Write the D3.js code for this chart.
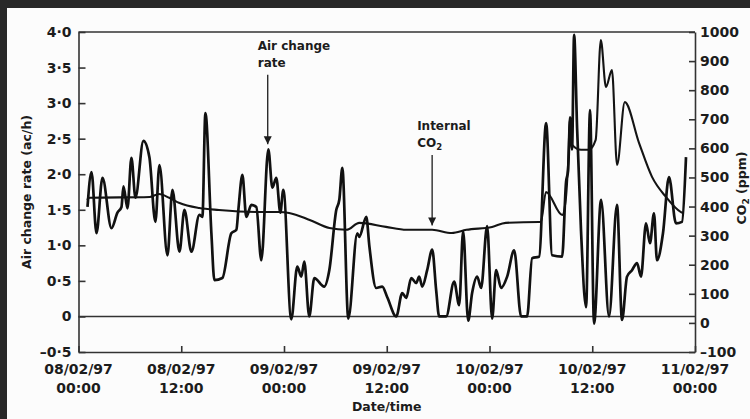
<!DOCTYPE html>
<html>
<head>
<meta charset="utf-8">
<script src="https://cdn.jsdelivr.net/npm/d3@7/dist/d3.min.js"></script>
<style>
body { margin: 0; background: #fcfcfc; }
svg { display: block; }
text { font-family: "DejaVu Sans", sans-serif; font-weight: bold; fill: #1c1c1c; }
.tick-label { font-size: 14px; }
.axis-title { font-size: 12.5px; }
.note { font-size: 12px; }
</style>
</head>
<body>
<script>
// air change rate (ac/h), hours since 08/02/97 00:00
var achHours = [1.05, 1.52, 2.10, 2.80, 3.85, 4.55, 5.02, 5.25, 5.72, 6.18, 6.65, 7.58, 8.28, 8.98, 9.45,
    10.39, 10.97, 11.79, 12.37, 13.19, 14.12, 14.47, 14.82, 15.52, 15.87, 16.80, 17.85, 18.44, 18.67, 19.14,
    19.60, 20.19, 20.77, 21.35, 22.17, 22.64, 23.10, 23.57, 23.92, 24.85, 25.55, 26.02, 26.37, 26.95, 27.54,
    28.70, 29.29, 30.11, 30.46, 30.81, 31.51, 32.56, 32.79, 33.61, 33.96, 34.77, 35.47, 36.06, 37.11, 37.81,
    38.27, 38.86, 39.44, 39.79, 40.14, 40.72, 41.31, 41.77, 42.12, 42.94, 43.87, 44.46, 44.92, 45.51, 45.97,
    46.56, 47.02, 47.72, 48.31, 48.77, 49.36, 50.06, 50.88, 51.69, 52.39, 52.98, 53.79, 54.61, 55.31, 56.48,
    56.94, 57.18, 57.41, 57.64, 57.88, 58.23, 58.69, 59.28, 59.74, 60.21, 61.03, 61.96, 62.89, 63.48, 64.06,
    64.64, 65.23, 65.69, 66.28, 66.74, 67.21, 67.56, 68.26, 68.96, 69.78, 70.48, 70.95];
var achValues = [1.54, 2.03, 1.17, 1.95, 1.24, 1.46, 1.54, 1.83, 1.52, 2.23, 1.67, 2.47, 2.24, 1.33, 2.13,
    0.86, 1.78, 0.91, 1.50, 0.91, 1.43, 1.40, 2.86, 1.17, 0.51, 0.54, 1.17, 1.22, 1.50, 1.99,
    1.40, 1.57, 1.54, 0.79, 2.35, 1.81, 1.95, 1.46, 1.78, -0.04, 0.70, 0.56, 0.77, 0.0, 0.54,
    0.42, 0.65, 1.50, 1.64, 2.09, -0.03, 1.17, 1.12, 1.40, 1.00, 0.40, 0.42, 0.27, 0.0, 0.33,
    0.26, 0.54, 0.47, 0.56, 0.42, 0.65, 0.94, 0.37, 0.0, 0.0, 0.49, 0.16, 1.20, -0.06, 0.33,
    0.56, 0.40, 1.27, -0.03, 0.65, 0.40, 0.56, 0.93, 0.0, 0.0, 0.82, 0.84, 2.72, 0.86, 0.84,
    1.89, 2.05, 2.80, 2.35, 3.96, 2.65, 1.20, 0.13, 2.90, -0.10, 1.64, 0.0, 1.57, -0.05, 0.56,
    0.65, 0.75, 0.56, 1.31, 1.03, 1.45, 0.79, 1.17, 1.96, 1.31, 1.33, 2.24];

// internal CO2 (ppm)
var co2Hours = [1.0, 1.3, 8.3, 9.4, 10.6, 11.8, 14.1, 16.4, 21.1, 23.4, 24.6, 27.0, 29.3, 31.3, 32.8,
    35.9, 38.3, 41.3, 43.6, 45.3, 48.3, 49.9, 53.8, 54.0, 54.6, 56.5, 56.9, 57.2, 57.4, 57.65,
    58.7, 59.6, 60.4, 61.0, 61.6, 62.3, 62.9, 63.8, 65.46, 66.98, 68.61, 70.36, 70.6];
var co2Values = [423, 430, 433, 443, 430, 412, 395, 388, 381, 381, 378, 354, 326, 320, 344,
    330, 320, 320, 309, 320, 330, 344, 347, 347, 450, 371, 423, 560, 704, 612,
    595, 595, 629, 972, 811, 869, 543, 759, 619, 502, 433, 381, 378];

var xTickHours = [0, 12, 24, 36, 48, 60, 72];
var xTickDates = ["08/02/97", "08/02/97", "09/02/97", "09/02/97", "10/02/97", "10/02/97", "11/02/97"];
var xTickTimes = ["00:00", "12:00", "00:00", "12:00", "00:00", "12:00", "00:00"];
var leftTicks = [-0.5, 0, 0.5, 1, 1.5, 2, 2.5, 3, 3.5, 4];
var leftTickLabels = ["\u20130\u00b75", "0", "0\u00b75", "1\u00b70", "1\u00b75", "2\u00b70", "2\u00b75", "3\u00b70", "3\u00b75", "4\u00b70"];
var rightTicks = [-100, 0, 100, 200, 300, 400, 500, 600, 700, 800, 900, 1000];
var rightTickLabels = ["\u2013100", "0", "100", "200", "300", "400", "500", "600", "700", "800", "900", "1000"];

var width = 750, height = 419;
var plot = {left: 78.5, right: 695, top: 32, bottom: 352};

var svg = d3.select("body").append("svg")
    .attr("width", width).attr("height", height);

// scanned page edge
svg.append("rect").attr("x", 0).attr("y", 0).attr("width", width).attr("height", 8).attr("fill", "#282828");
svg.append("rect").attr("x", 0).attr("y", 0).attr("width", 7).attr("height", height).attr("fill", "#282828");

var x = d3.scaleLinear().domain([0, 72]).range([plot.left, plot.right]);
var yL = d3.scaleLinear().domain([-0.5, 4]).range([plot.bottom, plot.top]);
var yR = d3.scaleLinear().domain([-100, 1000]).range([plot.bottom, plot.top]);

var axisColor = "#333";

// axes, ticks pointing inward
var gl = svg.append("g")
    .attr("transform", "translate(" + plot.left + ",0)")
    .call(d3.axisLeft(yL).tickValues(leftTicks)
        .tickFormat(function(d, i) { return leftTickLabels[i]; })
        .tickSizeInner(-7).tickSizeOuter(0).tickPadding(7));
var gr = svg.append("g")
    .attr("transform", "translate(" + plot.right + ",0)")
    .call(d3.axisRight(yR).tickValues(rightTicks)
        .tickFormat(function(d, i) { return rightTickLabels[i]; })
        .tickSizeInner(-6).tickSizeOuter(0).tickPadding(5));
var gb = svg.append("g")
    .attr("transform", "translate(0," + plot.bottom + ")")
    .call(d3.axisBottom(x).tickValues(xTickHours).tickFormat("")
        .tickSizeInner(-6).tickSizeOuter(0));

[gl, gr, gb].forEach(function(g) {
    g.attr("font-size", null).attr("font-family", null);
    g.selectAll("path, line").attr("stroke", axisColor).attr("stroke-width", 1.6);
    g.selectAll("text").attr("class", "tick-label");
});

// top frame line
svg.append("line")
    .attr("x1", plot.left).attr("x2", plot.right)
    .attr("y1", plot.top).attr("y2", plot.top)
    .attr("stroke", axisColor).attr("stroke-width", 1.6);

// zero line
svg.append("line")
    .attr("x1", plot.left).attr("x2", plot.right)
    .attr("y1", yL(0)).attr("y2", yL(0))
    .attr("stroke", axisColor).attr("stroke-width", 1.6);

// two-line date labels
var xl = svg.append("g").selectAll("text")
    .data(xTickHours)
    .enter().append("text")
    .attr("class", "tick-label")
    .attr("text-anchor", "middle")
    .attr("y", plot.bottom + 22);
xl.append("tspan")
    .attr("x", function(d) { return x(d); })
    .text(function(d, i) { return xTickDates[i]; });
xl.append("tspan")
    .attr("x", function(d) { return x(d); })
    .attr("dy", 18.5)
    .text(function(d, i) { return xTickTimes[i]; });

// axis titles
svg.append("text")
    .attr("class", "axis-title")
    .attr("text-anchor", "middle")
    .attr("transform", "translate(31," + (plot.top + plot.bottom) / 2 + ") rotate(-90)")
    .text("Air change rate (ac/h)");
var rt = svg.append("text")
    .attr("class", "axis-title")
    .attr("text-anchor", "middle")
    .attr("transform", "translate(746,188) rotate(-90)");
rt.append("tspan").text("CO");
rt.append("tspan").attr("font-size", "9px").attr("dy", 3).text("2");
rt.append("tspan").attr("dy", -3).text(" (ppm)");
svg.append("text")
    .attr("class", "axis-title")
    .attr("text-anchor", "middle")
    .attr("x", (plot.left + plot.right) / 2)
    .attr("y", 411)
    .text("Date/time");

// data lines
var achLine = d3.line()
    .curve(d3.curveMonotoneX)
    .x(function(d) { return x(d[0]); })
    .y(function(d) { return yL(d[1]); });
var co2Line = d3.line()
    .curve(d3.curveMonotoneX)
    .x(function(d) { return x(d[0]); })
    .y(function(d) { return yR(d[1]); });

svg.append("path")
    .datum(d3.zip(co2Hours, co2Values))
    .attr("fill", "none")
    .attr("stroke", "#141414")
    .attr("stroke-width", 2.1)
    .attr("stroke-linejoin", "round")
    .attr("d", co2Line);
svg.append("path")
    .datum(d3.zip(achHours, achValues))
    .attr("fill", "none")
    .attr("stroke", "#111")
    .attr("stroke-width", 2.7)
    .attr("stroke-linejoin", "round")
    .attr("d", achLine);

// annotations
svg.append("defs").append("marker")
    .attr("id", "head")
    .attr("viewBox", "0 0 8 10")
    .attr("refX", 8).attr("refY", 5)
    .attr("markerWidth", 8).attr("markerHeight", 10)
    .attr("markerUnits", "userSpaceOnUse")
    .attr("orient", "auto")
    .append("path").attr("d", "M0,1 L8,5 L0,9 z").attr("fill", "#1c1c1c");

function note(hour, y0, y1, lines, dx) {
    svg.append("line")
        .attr("x1", x(hour)).attr("x2", x(hour))
        .attr("y1", y0).attr("y2", y1)
        .attr("stroke", "#1c1c1c").attr("stroke-width", 1.3)
        .attr("marker-end", "url(#head)");
    var t = svg.append("text").attr("class", "note");
    lines.forEach(function(l, i) {
        var ts = t.append("tspan").attr("x", x(hour) + dx).attr("y", y0 - 25 + i * 17);
        if (l == "CO2") {
            ts.text("CO");
            ts = t.append("tspan").attr("font-size", "8.5px").attr("dy", 3).text("2");
        } else {
            ts.text(l);
        }
    });
}
note(22.1, yL(3.4), yL(2.42), ["Air change", "rate"], -10);
note(41.3, yR(577), yR(335), ["Internal", "CO2"], -15);
</script>
</body>
</html>
